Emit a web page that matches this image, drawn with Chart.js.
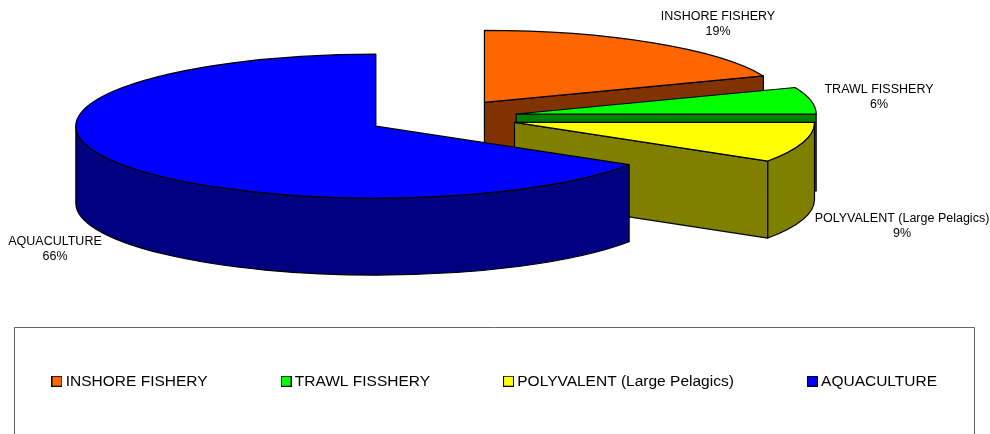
<!DOCTYPE html>
<html>
<head>
<meta charset="utf-8">
<style>
html,body{margin:0;padding:0;background:#fff;overflow:hidden}
#wrap{position:relative;width:990px;height:434px}
canvas{display:block}
</style>
<script src="https://cdn.jsdelivr.net/npm/chart.js@4"></script>
</head>
<body>
<div id="wrap"><canvas id="c" width="990" height="434"></canvas></div>
<script>
const categories = ["INSHORE FISHERY", "TRAWL FISSHERY", "POLYVALENT (Large Pelagics)", "AQUACULTURE"];
const shares = [19, 6, 9, 66];
const topColors = ["#FF6600", "#00FF00", "#FFFF00", "#0000FF"];
const sideColors = ["#803300", "#008000", "#808000", "#000080"];

// Presentation of the tilted pie
const pieCenter = {x: 442, y: 117.4};
const tilt = 0.24;
const depth = 77;
const labelFont = "12.5px 'Liberation Sans', Arial, sans-serif";
const labelAnchors = [{x: 718, y: 16.5}, {x: 879, y: 89.5}, {x: 902, y: 219}, {x: 55, y: 241.5}];
const legendFrame = {left: 14, right: 974, top: 327, bottom: 434};

function legendSwatch(color) {
  const s = document.createElement('canvas');
  s.width = 11; s.height = 11;
  const g = s.getContext('2d');
  g.fillStyle = color; g.fillRect(0, 0, 11, 11);
  g.strokeStyle = '#000'; g.lineWidth = 1; g.strokeRect(0.5, 0.5, 10, 10);
  return s;
}

const tiltedPie = {
  id: 'tiltedPie',
  beforeDraw(chart) {
    const c = chart.ctx;
    c.save();
    c.strokeStyle = '#666'; c.lineWidth = 1;
    c.beginPath();
    c.moveTo(legendFrame.left + .5, legendFrame.bottom);
    c.lineTo(legendFrame.left + .5, legendFrame.top + .5);
    c.lineTo(legendFrame.right + .5, legendFrame.top + .5);
    c.lineTo(legendFrame.right + .5, legendFrame.bottom);
    c.stroke();
    c.restore();
  },
  beforeDatasetDraw(chart, args) {
    const c = chart.ctx;
    const arcs = args.meta.data;
    const base = {x: arcs[0].x, y: arcs[0].y};
    const drop = depth / tilt;
    const pathIn = (build) => {
      c.save();
      c.translate(pieCenter.x, pieCenter.y);
      c.scale(1, tilt);
      c.translate(-base.x, -base.y);
      c.beginPath();
      build();
      c.closePath();
      c.restore();
    };
    const paint = (fill) => {
      c.fillStyle = fill; c.fill();
      c.strokeStyle = '#000'; c.lineWidth = 1.2; c.lineJoin = 'round'; c.stroke();
    };
    arcs.forEach((el, i) => {
      const {startAngle: s, endAngle: e, outerRadius: r, options} = el;
      const mid = (s + e) / 2;
      const x = el.x + Math.cos(mid) * options.offset;
      const y = el.y + Math.sin(mid) * options.offset;
      const face = (a) => pathIn(() => {
        c.moveTo(x, y);
        c.lineTo(x + Math.cos(a) * r, y + Math.sin(a) * r);
        c.lineTo(x + Math.cos(a) * r, y + Math.sin(a) * r + drop);
        c.lineTo(x, y + drop);
      });
      if (Math.sin(s - Math.PI / 2) > 1e-6) { face(s); paint(sideColors[i]); }
      if (Math.sin(e + Math.PI / 2) > 1e-6) { face(e); paint(sideColors[i]); }
      const a0 = Math.max(s, 0), a1 = Math.min(e, Math.PI);
      if (a1 > a0) {
        pathIn(() => {
          c.arc(x, y, r, a0, a1);
          c.arc(x, y + drop, r, a1, a0, true);
        });
        paint(sideColors[i]);
      }
      pathIn(() => {
        c.moveTo(x, y);
        c.arc(x, y, r, s, e);
      });
      paint(topColors[i]);
    });
    c.save();
    c.font = labelFont;
    c.fillStyle = '#000';
    c.textAlign = 'center';
    c.textBaseline = 'middle';
    categories.forEach((name, i) => {
      c.fillText(name, labelAnchors[i].x, labelAnchors[i].y);
      c.fillText(shares[i] + '%', labelAnchors[i].x, labelAnchors[i].y + 15);
    });
    c.restore();
    return false;
  }
};

new Chart(document.getElementById('c'), {
  type: 'pie',
  data: {
    labels: categories,
    datasets: [{
      data: shares,
      backgroundColor: topColors,
      borderColor: '#000',
      borderWidth: 1,
      offset: 75.5,
      radius: 300
    }]
  },
  plugins: [tiltedPie],
  options: {
    responsive: false,
    animation: false,
    layout: {padding: {left: -27, right: -30, bottom: 35}},
    plugins: {
      tooltip: {enabled: false},
      legend: {
        position: 'bottom',
        labels: {
          color: '#000',
          font: {family: "'Liberation Sans', Arial, sans-serif", size: 15.5},
          usePointStyle: true,
          boxWidth: 2,
          padding: 77.5,
          generateLabels: () => categories.map((t, i) => ({
            text: t,
            fillStyle: topColors[i],
            strokeStyle: '#000',
            lineWidth: 1,
            fontColor: '#000',
            pointStyle: legendSwatch(topColors[i]),
            index: i
          }))
        }
      }
    }
  }
});
</script>
</body>
</html>
